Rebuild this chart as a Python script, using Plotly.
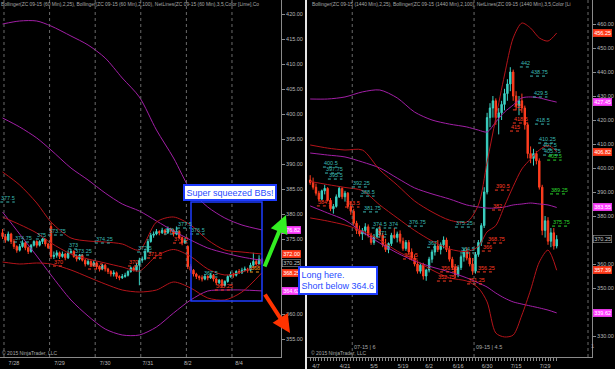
import plotly.graph_objects as go
import pandas as pd

W, H = 615, 369
FONT = "Liberation Sans, Arial, sans-serif"

# ---------------- Left panel: ZC 09-15, 60 min ----------------
L_open = [376.25, 375.5, 374.75, 376.0, 374.5, 373.5, 372.75, 373.5, 374.25, 373.25,
          372.5, 373.75, 374.5, 373.75, 374.5, 375.0, 374.0, 377.5, 371.5, 371.75,
          372.25, 371.5, 372.0, 371.25, 372.25, 372.5, 371.5, 371.0, 371.75, 370.75,
          370.0, 370.5, 369.75, 370.25, 369.5, 369.0, 369.75, 369.0, 368.5, 368.0,
          368.25, 367.5, 367.25, 367.5, 367.75, 368.5, 369.25, 368.75, 369.75, 370.75,
          371.0, 372.5, 374.5, 375.75, 376.0, 376.5, 376.25, 376.75, 376.25, 377.0,
          376.75, 376.0, 376.5, 375.25, 374.25, 373.5, 369.5, 368.75, 368.0, 367.5,
          367.25, 367.0, 367.5, 367.25, 367.75, 367.0, 366.25, 366.75, 365.75, 366.5,
          367.5, 368.0, 367.75, 368.5, 368.25, 368.75, 369.0, 368.75, 369.75, 370.5,
          370.0, 371.0]
L_high = [377.0, 376.0, 376.5, 376.25, 375.0, 373.75, 374.0, 374.75, 374.5, 373.5,
          374.0, 374.75, 374.75, 374.75, 375.25, 375.0, 374.25, 378.25, 372.5, 372.75,
          372.5, 372.5, 372.25, 372.75, 373.0, 372.75, 371.75, 372.0, 372.0, 371.0,
          371.0, 370.75, 370.75, 370.5, 369.75, 370.0, 370.0, 369.25, 368.75, 368.75,
          368.5, 367.75, 368.0, 368.25, 368.75, 369.5, 369.5, 370.25, 371.25, 371.5,
          373.0, 375.0, 376.25, 376.5, 377.0, 376.75, 377.25, 377.0, 377.5, 377.25,
          377.0, 377.5, 376.75, 375.5, 375.25, 373.75, 370.0, 369.0, 368.25, 367.75,
          367.75, 368.0, 367.75, 368.25, 368.0, 367.25, 367.0, 367.0, 366.75, 367.75,
          368.5, 368.25, 368.75, 369.0, 369.25, 369.5, 369.25, 370.25, 372.25, 371.0,
          371.75, 371.25]
L_low = [375.0, 374.25, 374.5, 374.0, 373.0, 372.25, 372.5, 373.25, 372.75, 372.0,
         372.25, 373.5, 373.25, 373.5, 374.0, 373.5, 373.0, 371.0, 371.0, 371.25,
         371.0, 371.25, 370.75, 371.0, 372.0, 371.25, 370.5, 370.75, 370.5, 369.5,
         369.75, 369.5, 369.5, 369.0, 368.5, 368.75, 368.5, 368.0, 367.5, 367.5,
         367.0, 366.75, 367.0, 367.25, 367.5, 368.25, 368.5, 368.5, 365.75, 370.25,
         370.75, 372.25, 374.25, 375.25, 375.75, 375.75, 376.0, 375.75, 376.0, 376.25,
         375.5, 375.75, 375.0, 373.75, 374.0, 369.0, 368.25, 367.5, 367.0, 366.75,
         366.5, 366.75, 366.75, 367.0, 366.5, 365.75, 366.0, 365.25, 365.5, 366.25,
         367.25, 367.25, 367.5, 368.0, 368.0, 368.5, 368.25, 368.5, 369.5, 369.75,
         369.75, 370.0]
L_close = [375.5, 374.75, 376.0, 374.5, 373.5, 372.75, 373.5, 374.25, 373.25, 372.5,
           373.75, 374.5, 373.75, 374.5, 375.0, 374.0, 373.25, 371.5, 371.75, 372.25,
           371.5, 372.0, 371.25, 372.25, 372.5, 371.5, 371.0, 371.75, 370.75, 370.0,
           370.5, 369.75, 370.25, 369.5, 369.0, 369.75, 369.0, 368.5, 368.0, 368.25,
           367.5, 367.25, 367.5, 367.75, 368.5, 369.25, 368.75, 369.75, 370.75, 371.0,
           372.5, 374.5, 375.75, 376.0, 376.5, 376.25, 376.75, 376.25, 377.0, 376.75,
           376.0, 376.5, 375.25, 374.25, 374.75, 369.5, 368.75, 368.0, 367.5, 367.25,
           367.0, 367.5, 367.25, 367.75, 367.0, 366.25, 366.75, 365.75, 366.5, 367.5,
           368.0, 367.75, 368.5, 368.25, 368.75, 369.0, 368.75, 369.75, 370.5, 370.0,
           371.0, 370.25]
L_session_starts = [1, 17, 33, 49, 65, 81]
L_date_labels = ["7/28", "7/29", "7/30", "7/31", "8/2", "8/4"]
L_date_label_bars = [4, 20, 36, 51, 65, 83]

L_band_bars = [0, 6, 12, 17, 24, 30, 36, 42, 48, 54, 60, 66, 72, 78, 84, 91]
L_bb25_upper = [388.4, 385.8, 382.2, 378.4, 375.2, 374.6, 374.4, 374.0, 372.8, 378.4,
                379.4, 377.8, 374.8, 372.8, 372.4, 372.00]
L_bb25_mid = [379.4, 377.9, 376.2, 374.2, 372.0, 371.0, 370.2, 369.4, 368.6, 371.6,
              372.9, 371.5, 369.0, 367.8, 368.4, 370.125]
L_bb25_lower = [370.4, 370.0, 370.2, 370.0, 368.8, 367.4, 366.0, 364.8, 364.4, 364.8,
                366.4, 365.2, 363.2, 362.8, 364.4, 368.25]
L_bb100_upper = [418.0, 418.6, 418.6, 417.6, 415.6, 413.8, 411.2, 407.2, 403.4, 396.8,
                 391.2, 384.8, 381.4, 379.2, 377.8, 376.82]
L_bb100_mid = [399.2, 397.4, 395.2, 392.8, 389.2, 386.8, 384.2, 382.0, 380.6, 378.6,
               376.6, 374.8, 373.2, 372.2, 371.4, 370.72]
L_bb100_lower = [380.4, 376.0, 371.6, 367.8, 362.8, 359.6, 357.0, 355.8, 355.8, 357.4,
                 360.2, 362.8, 364.6, 364.8, 364.8, 364.62]

L_net_text = ["377.5", "374.75", "375", "373.75", "373", "373.25", "374.25", "372.5",
              "376.5", "377.5", "376.5", "367.5",
              "370", "369.5", "370", "371.5", "374.5", "365.25", "368"]
L_net_bar = [-0.8, 4.0, 11.7, 15.9, 23.0, 25.1, 32.4, 47.2, 56.6, 61.2, 65.8, 70.3,
             17.7, 30.0, 44.0, 50.7, 59.8, 74.5, 86.8]
L_net_level = [382.4, 374.4, 375.0, 375.8, 373.0, 371.8, 374.2, 372.4, 376.0, 377.2,
               376.0, 367.4, 369.6, 369.0, 369.6, 371.2, 374.2, 364.8, 368.4]
L_net_kind = ["up"] * 12 + ["dn"] * 6 + ["or"]

L_mark_text = ["376.82", "372.00", "368.25", "370.25", "364.62"]
L_mark_val = [376.82, 372.00, 368.25, 370.25, 364.62]
L_mark_kind = ["pink", "red", "red", "last", "pink"]

# ---------------- Right panel: ZC 09-15, daily ----------------
R_holidays = ["2015-04-03", "2015-05-25", "2015-07-03"]
R_dates = [d for d in pd.bdate_range("2015-04-02", "2015-08-04")
           if d.strftime("%Y-%m-%d") not in R_holidays]
R_open = [395, 394, 392, 389.5, 387, 390.5, 391.5, 386.5, 383, 384,
          388, 391.5, 388, 389.5, 384, 382, 377, 374, 372.5, 374,
          375.5, 372, 369, 371.5, 374.5, 372, 368, 366, 368.5, 372,
          371, 372.5, 369.5, 366.5, 369, 365, 362.5, 360, 357, 359.5,
          355, 357.5, 362, 365, 367.5, 366, 368, 370, 366, 362,
          358.5, 355.5, 358.5, 363, 365.5, 362.5, 360, 357, 364, 369,
          376, 390, 421, 425, 428, 421, 423, 426.5, 431, 435,
          440, 430, 426, 428, 425, 418, 406, 404, 406, 403,
          392, 374, 378, 369.5, 373, 367.5]
R_high = [397, 396, 393.5, 390.5, 391, 393, 392, 387.5, 385, 389,
          392.5, 392, 390.5, 390, 386, 383, 378, 376, 375, 377,
          376.5, 373, 372.5, 375, 376, 373, 370.5, 369, 373, 375,
          373.5, 374, 371, 370, 370, 366.5, 364, 361.5, 360.5, 360.5,
          358, 363, 366, 368.5, 370, 369, 371.5, 371, 367.5, 363,
          360, 359.5, 364, 366.5, 367, 365, 362.5, 365, 370, 377,
          392, 423, 427, 430, 429, 425, 428, 433, 437, 442,
          441, 432, 430, 431, 426, 419, 409, 408, 407, 404,
          393, 380, 379.5, 375, 375, 372]
R_low = [393, 391, 388.5, 386, 386.5, 389, 386, 382, 381, 383.5,
         387.5, 387, 386, 383, 380.5, 376, 372.5, 371.5, 370, 372,
         371, 368, 368, 370.5, 371, 367, 365, 364.5, 367.5, 370.5,
         369, 368.5, 365.5, 365.5, 364, 361.5, 359, 356, 356, 353.5,
         353, 356.5, 360.5, 363.5, 365, 364, 366.5, 365, 361, 357.5,
         354, 354.5, 357.5, 361, 361.5, 359, 355.5, 356, 363, 367.5,
         375, 389, 417, 421, 418, 414, 420, 424, 428, 432,
         428, 424, 422, 423, 416, 404, 402, 401, 401.5, 391,
         372, 371, 368, 367, 366, 366.5]
R_close = [394, 392, 389.5, 387, 390.5, 391.5, 386.5, 383, 384, 388,
           391.5, 388, 389.5, 384, 382, 377, 374, 372.5, 374, 375.5,
           372, 369, 371.5, 374.5, 372, 368, 366, 368.5, 372, 371,
           372.5, 369.5, 366.5, 369, 365, 362.5, 360, 357, 359.5, 355,
           357.5, 362, 365, 367.5, 366, 368, 370, 366, 362, 358.5,
           355.5, 358.5, 363, 365.5, 362.5, 360, 357, 364, 369, 376,
           390, 421, 425, 428, 421, 423, 426.5, 431, 435, 440,
           430, 426, 428, 425, 418, 406, 404, 406, 403, 392,
           374, 378, 369.5, 373, 367.5, 370.25]
R_tick_dates = ["2015-04-07", "2015-04-21", "2015-05-05", "2015-05-19", "2015-06-02",
                "2015-06-16", "2015-06-30", "2015-07-15", "2015-07-29"]
R_roll_text = ["07-15 | 6", "09-15 | 4.5"]
R_roll_after = ["2015-04-23", "2015-06-23"]

R_band_bars = [0, 6, 12, 18, 24, 30, 36, 42, 48, 54, 58, 61, 64, 67, 70, 73, 76, 79, 82, 85]
R_bb25_upper = [409.6, 408.3, 407.5, 407.5, 399.2, 392.9, 386.25, 381.7, 378.3, 377.5,
                384.6, 402.5, 420.8, 438.75, 454.2, 460.4, 458.3, 454.2, 452.9, 456.25]
R_bb25_mid = [394.4, 393.1, 391.9, 390.6, 384.6, 379.2, 374.0, 369.6, 366.25, 365.2,
              367.3, 373.4, 376.0, 384.2, 392.3, 399.6, 403.75, 407.5, 409.4, 406.82]
R_bb25_lower = [379.2, 377.9, 376.25, 373.75, 370.0, 365.4, 361.7, 357.5, 354.2, 352.9,
                350.0, 344.2, 331.25, 329.6, 330.4, 338.75, 349.2, 360.8, 365.8, 357.39]
R_bb100_upper = [428.75, 428.75, 429.6, 431.7, 432.5, 429.2, 423.3, 420.0, 418.3, 417.1,
                 415.8, 415.0, 419.2, 423.3, 426.25, 429.2, 429.6, 429.2, 428.3, 427.45]
R_bb100_mid = [406.25, 405.4, 404.6, 402.5, 400.0, 395.8, 391.7, 389.2, 387.1, 384.6,
               383.75, 383.3, 383.3, 383.75, 384.6, 385.0, 385.4, 385.0, 384.6, 383.55]
R_bb100_lower = [384.2, 381.25, 378.3, 373.3, 368.75, 364.6, 361.25, 358.75, 356.7, 354.2,
                 352.1, 350.4, 347.9, 345.8, 344.2, 343.3, 342.5, 341.7, 340.8, 339.62]

R_net_text = ["400.5", "397.75", "395.5", "392.25", "388.5", "381.75", "374.5", "374",
              "371", "376.75", "367", "375.25", "364.5", "442", "438.75", "429.5",
              "418.5", "410.25", "407.5", "405.75",
              "405.5", "389.25", "375.75",
              "384.5", "383.5", "362.5", "356.25", "352.75", "351.25", "356.25", "366",
              "368.75", "382", "390.5", "425", "418.5", "415"]
R_net_bar = [4.4, 5.1, 6.1, 14.4, 17.2, 18.2, 21.2, 26.9, 23.0, 33.7, 40.3, 49.9, 51.7,
             72.3, 75.8, 76.8, 77.5, 78.6, 80.0, 80.3,
             81.7, 82.7, 83.4,
             2.3, 12.0, 32.0, 44.8, 43.7, 54.1, 57.5, 59.2, 61.0, 62.7, 63.7, 69.9, 69.9, 68.9]
R_net_level = [400.4, 397.9, 395.4, 392.1, 388.3, 381.7, 375.0, 375.0, 371.25, 375.8, 367.0,
               375.4, 364.6, 442.1, 438.3, 429.6, 418.3, 410.4, 407.9, 405.4,
               403.3, 389.2, 375.8,
               384.2, 383.75, 362.1, 356.7, 352.9, 351.7, 356.7, 365.4, 368.75, 382.5,
               390.8, 424.2, 418.75, 415.4]
R_net_kind = ["up"] * 20 + ["gr"] * 3 + ["dn"] * 14

R_mark_text = ["456.25", "427.45", "406.82", "383.55", "370.25", "357.39", "339.62"]
R_mark_val = [456.25, 427.45, 406.82, 383.55, 370.25, 357.39, 339.62]
R_mark_kind = ["red", "pink", "red", "pink", "last", "red", "pink"]

# ---------------- layout geometry (pixels) ----------------
PLOT_BOTTOM = 357
L_X0, L_X1 = 0, 281
R_X0, R_X1 = 307, 592
L_XRANGE = [-0.9, 97.7]
R_XRANGE = [-1.1, 97.17]
L_YRANGE = [351.4, 422.8]
R_YRANGE = [321.25, 470.0]

UP, DN = "#3cd2c3", "#ff3d1f"
RED_BB, PUR_BB = "#b5141a", "#a21fa6"
KIND_COL = {"up": "#3ab9b4", "dn": "#ff3a22", "gr": "#2bd62b", "or": "#ff9a1a"}
MARK_BG = {"pink": "#ff40ff", "red": "#ff3a1a", "last": "#000000"}
AX = "#8a8a8a"
TXT = "#b8b8b8"


def px(x):
    return x / W


def py(y):
    return 1 - y / H


fig = go.Figure()

panels = [
    dict(xa="x", ya="y", o=L_open, h=L_high, l=L_low, c=L_close,
         bars=L_band_bars, bands=[(L_bb100_upper, PUR_BB), (L_bb100_mid, PUR_BB), (L_bb100_lower, PUR_BB),
                                  (L_bb25_upper, RED_BB), (L_bb25_mid, RED_BB), (L_bb25_lower, RED_BB)],
         net=(L_net_text, L_net_bar, L_net_level, L_net_kind),
         ppb=(L_X1 - L_X0) / (L_XRANGE[1] - L_XRANGE[0])),
    dict(xa="x2", ya="y2", o=R_open, h=R_high, l=R_low, c=R_close,
         bars=R_band_bars, bands=[(R_bb100_upper, PUR_BB), (R_bb100_mid, PUR_BB), (R_bb100_lower, PUR_BB),
                                  (R_bb25_upper, RED_BB), (R_bb25_mid, RED_BB), (R_bb25_lower, RED_BB)],
         net=(R_net_text, R_net_bar, R_net_level, R_net_kind),
         ppb=(R_X1 - R_X0) / (R_XRANGE[1] - R_XRANGE[0])),
]

annotations = []
for p in panels:
    for vals, col in p["bands"]:
        fig.add_trace(go.Scatter(x=p["bars"], y=vals, mode="lines", xaxis=p["xa"], yaxis=p["ya"],
                                 line=dict(color=col, width=1, shape="spline", smoothing=0.8),
                                 hoverinfo="skip"))
    n = len(p["c"])
    fig.add_trace(go.Candlestick(x=list(range(n)), open=p["o"], high=p["h"], low=p["l"], close=p["c"],
                                 xaxis=p["xa"], yaxis=p["ya"], whiskerwidth=0,
                                 increasing=dict(line=dict(color=UP, width=1), fillcolor=UP),
                                 decreasing=dict(line=dict(color=DN, width=1), fillcolor=DN)))
    texts, bars, levels, kinds = p["net"]
    for kind in KIND_COL:
        xs, ys = [], []
        for t, b, lv, k in zip(texts, bars, levels, kinds):
            if k != kind:
                continue
            w = (len(t) * 2.7 + 1) / p["ppb"]
            xs += [b, b + w, None]
            ys += [lv, lv, None]
        if xs:
            fig.add_trace(go.Scatter(x=xs, y=ys, mode="lines", xaxis=p["xa"], yaxis=p["ya"],
                                     line=dict(color=KIND_COL[kind], width=1, dash="dot"),
                                     hoverinfo="skip"))
    for t, b, lv, k in zip(texts, bars, levels, kinds):
        annotations.append(dict(x=b, y=lv, xref=p["xa"], yref=p["ya"], text=t, showarrow=False,
                                xanchor="left", yanchor="bottom", borderpad=0,
                                font=dict(size=5.5, color=KIND_COL[k], family=FONT)))

# price markers on the y axes (drawn over the axis tick labels, as in NinjaTrader)
for texts, vals, kinds, xpix, yref in [(L_mark_text, L_mark_val, L_mark_kind, L_X1 + 1, "y"),
                                       (R_mark_text, R_mark_val, R_mark_kind, R_X1 + 1, "y2")]:
    for t, v, k in zip(texts, vals, kinds):
        annotations.append(dict(x=px(xpix), y=v, xref="paper", yref=yref, text=t, showarrow=False,
                                xanchor="left", yanchor="middle", bgcolor=MARK_BG[k],
                                bordercolor="#9a9a9a" if k == "last" else MARK_BG[k], borderwidth=0.6,
                                borderpad=0.6,
                                font=dict(size=5.5, color="#c8c8c8" if k == "last" else "white", family=FONT)))

# header texts
annotations.append(dict(x=px(-1), y=py(5), xref="paper", yref="paper", xanchor="left", yanchor="middle",
                        showarrow=False, font=dict(size=4.9, color="#a8a8a8", family=FONT),
                        text="Bollinger(ZC 09-15 (60 Min),2,25), Bollinger(ZC 09-15 (60 Min),2,100), "
                             "NetLines(ZC 09-15 (60 Min),3,5,Color [Lime],Co"))
annotations.append(dict(x=px(310), y=py(5), xref="paper", yref="paper", xanchor="left", yanchor="middle",
                        showarrow=False, font=dict(size=4.9, color="#a8a8a8", family=FONT),
                        text="Bollinger(ZC 09-15 (1440 Min),2,25), Bollinger(ZC 09-15 (1440 Min),2,100), "
                             "NetLines(ZC 09-15 (1440 Min),3,5,Color [Li"))
for xx in [0, 309]:
    annotations.append(dict(x=px(xx), y=py(353), xref="paper", yref="paper", xanchor="left",
                            yanchor="middle", showarrow=False,
                            font=dict(size=5, color="#a8a8a8", family=FONT),
                            text="© 2015 NinjaTrader, LLC"))

# rollover markers
R_idx = {d.strftime("%Y-%m-%d"): i for i, d in enumerate(R_dates)}
shapes = []
for t, d in zip(R_roll_text, R_roll_after):
    xv = R_idx[d] + 0.5
    shapes.append(dict(type="line", xref="x2", yref="y2 domain", x0=xv, x1=xv, y0=0, y1=1,
                       line=dict(color="#6a6a6a", width=1, dash="dot")))
    annotations.append(dict(x=xv, y=py(347), xref="x2", yref="paper", xanchor="left", yanchor="middle",
                            showarrow=False, text=t, font=dict(size=5.5, color="#a8a8a8", family=FONT)))
shapes.append(dict(type="line", xref="paper", yref="paper", x0=px(588), x1=px(588), y0=py(PLOT_BOTTOM),
                   y1=1, line=dict(color="#6a6a6a", width=1, dash="dot")))
annotations.append(dict(x=px(589), y=py(346), xref="paper", yref="paper", xanchor="left", yanchor="middle",
                        showarrow=False, text="1", font=dict(size=5.5, color="#a8a8a8", family=FONT)))

for s in L_session_starts:
    shapes.append(dict(type="line", xref="x", yref="y domain", x0=s - 0.5, x1=s - 0.5, y0=0, y1=1,
                       line=dict(color="#6a6a6a", width=1, dash="dot")))

# separator between the two panels
shapes.append(dict(type="line", xref="paper", yref="paper", x0=px(306), x1=px(306), y0=0, y1=1,
                   line=dict(color="#e6e6e6", width=2)))

# drawing objects: squeeze box, arrows, comments
BLUE = "#1e3cff"
shapes.append(dict(type="rect", xref="paper", yref="paper", x0=px(191), x1=px(262), y0=py(301), y1=py(202),
                   line=dict(color=BLUE, width=1.5), layer="above"))
annotations.append(dict(x=px(230), y=py(193), xref="paper", yref="paper", showarrow=False,
                        xanchor="center", yanchor="middle",
                        text="Super squeezed BBs!", bgcolor="white", bordercolor=BLUE, borderwidth=2,
                        borderpad=1.5, font=dict(size=9, color="#2a4cff", family=FONT)))
annotations.append(dict(x=px(338), y=py(280), xref="paper", yref="paper", showarrow=False, align="left",
                        xanchor="center", yanchor="middle",
                        text="Long here.<br>Short below 364.6", bgcolor="white", bordercolor=BLUE,
                        borderwidth=2, borderpad=1.5, font=dict(size=9, color="#2a4cff", family=FONT)))
annotations.append(dict(x=px(286), y=py(215), xref="paper", yref="paper", text="", showarrow=True,
                        ax=-22, ay=53, arrowhead=2, arrowsize=0.9, arrowwidth=4, arrowcolor="#33ee22",
                        standoff=0))
annotations.append(dict(x=px(290), y=py(333), xref="paper", yref="paper", text="", showarrow=True,
                        ax=-26, ay=-40, arrowhead=2, arrowsize=0.9, arrowwidth=4, arrowcolor="#ff3300",
                        standoff=0))

ydom = [1 - PLOT_BOTTOM / H, 1]
tickfont = dict(size=5.5, color=TXT, family=FONT)
R_tickvals = list(range(len(R_dates)))
R_label_map = {R_idx[d]: f"{int(d[5:7])}/{int(d[8:10])}" for d in R_tick_dates}
R_ticktext = [R_label_map.get(i, "") for i in R_tickvals]


def price_ticks(values, marks, yrange):
    # tick labels that sit under a price marker are hidden, as the markers cover them
    ppu = PLOT_BOTTOM / (yrange[1] - yrange[0])
    return [("" if any(abs(v - m) * ppu < 5 for m in marks) else f"{v:.2f}") for v in values]


L_yticks = list(range(355, 421, 5))
R_yticks = list(range(330, 461, 10))

fig.update_layout(
    width=W, height=H, margin=dict(l=0, r=0, t=0, b=0),
    paper_bgcolor="black", plot_bgcolor="black", showlegend=False,
    font=dict(family=FONT, color=TXT),
    xaxis=dict(domain=[px(L_X0), px(L_X1)], range=L_XRANGE, anchor="y", showgrid=False, zeroline=False,
               showline=True, linecolor=AX, linewidth=1, ticks="", tickvals=L_date_label_bars,
               ticktext=L_date_labels, tickfont=tickfont, rangeslider=dict(visible=False)),
    yaxis=dict(domain=ydom, range=L_YRANGE, anchor="x", side="right", showgrid=False, zeroline=False,
               showline=True, linecolor=AX, linewidth=1, ticks="outside", ticklen=3, tickcolor=AX,
               tickvals=L_yticks, ticktext=price_ticks(L_yticks, L_mark_val, L_YRANGE), tickfont=tickfont),
    xaxis2=dict(domain=[px(R_X0), px(R_X1)], range=R_XRANGE, anchor="y2", showgrid=False, zeroline=False,
                showline=True, linecolor=AX, linewidth=1, ticks="outside", ticklen=3, tickcolor=AX,
                tickvals=R_tickvals, ticktext=R_ticktext, tickfont=tickfont,
                rangeslider=dict(visible=False)),
    yaxis2=dict(domain=ydom, range=R_YRANGE, anchor="x2", side="right", showgrid=False, zeroline=False,
                showline=True, linecolor=AX, linewidth=1, ticks="outside", ticklen=3, tickcolor=AX,
                tickvals=R_yticks, ticktext=price_ticks(R_yticks, R_mark_val, R_YRANGE), tickfont=tickfont),
    annotations=annotations, shapes=shapes,
)

fig.write_html("out.html")
